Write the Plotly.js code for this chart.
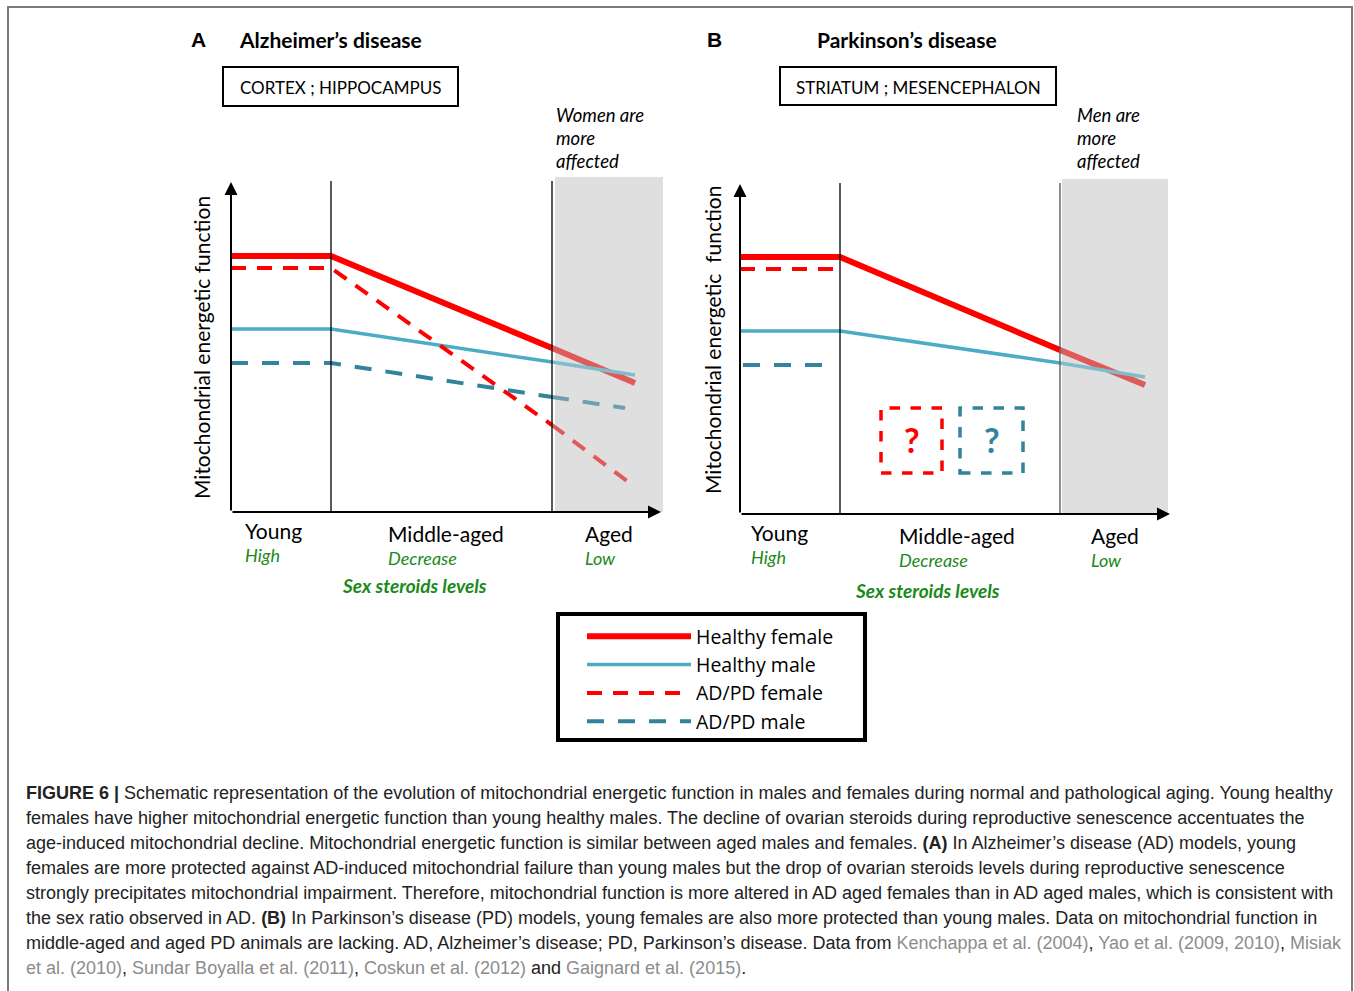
<!DOCTYPE html>
<html>
<head>
<meta charset="utf-8">
<script src="https://cdn.plot.ly/plotly-3.0.1.min.js"></script>
<style>html,body{margin:0;padding:0;background:#fff;}#chart{width:1354px;height:991px;}</style>
</head>
<body>
<div id="chart"></div>
<script>
// ---------- DATA (x: age stage units, y: relative mitochondrial function) ----------
// stage boundaries: young 0-1, middle-aged 1-3.21, aged >3.21
const seriesNames = ["Healthy female", "Healthy male", "AD/PD female", "AD/PD male"];

// Panel A – Alzheimer's disease
const hfA_x = [0, 1.00, 3.21, 4.04];
const hfA_y = [256, 256, 164, 129];
const hmA_x = [0, 1.00, 3.21, 4.04];
const hmA_y = [183, 183, 150, 137];
const adfA_x = [0, 1.00, 3.21, 4.04];
const adfA_y = [244, 244, 87, 25];
const admA_x = [0, 1.00, 3.21, 3.94];
const admA_y = [149, 149, 115, 104];

// Panel B – Parkinson's disease
const hfB_x = [0, 1.00, 3.20, 4.05];
const hfB_y = [257, 257, 164, 129];
const hmB_x = [0, 1.00, 3.20, 4.05];
const hmB_y = [183, 183, 151, 137];
const adfB_x = [0, 0.98];
const adfB_y = [245, 245];
const admB_x = [0.03, 0.95];
const admB_y = [149, 149];

// stage boundaries and shaded "aged" zone
const stageBoundsA = [1.00, 3.21];
const stageBoundsB = [1.00, 3.20];
const agedZoneA = [3.24, 4.32];
const agedZoneB = [3.22, 4.28];

// Category labels
const stageLabels = ["Young", "Middle-aged", "Aged"];
const steroidLabels = ["High", "Decrease", "Low"];

// ---------- STYLES ----------
const RED = "#ff0000", RED_F = "#df5b5b";
const BLUE = "#4bacc6", BLUE_F = "#80bccb";
const TEAL = "#31849b", TEAL_F = "#6e9fae";
const GREEN = "#1b8a1b";
const GRAY_ZONE = "#dfdfdf";
const FONT = "Lato";

const styles = [
  {color: RED, faded: RED_F, width: 6, dash: "solid"},
  {color: BLUE, faded: BLUE_F, width: 3.5, dash: "solid"},
  {color: RED, faded: RED_F, width: 4, dash: "15px,11px"},
  {color: TEAL, faded: TEAL_F, width: 4, dash: "17px,14px"}
];

const W = 1354, H = 991;
const px = v => v / W;
const py = v => 1 - v / H;

const traces = [];
function addSeries(xs, ys, k, xa, ya, legend, split) {
  const st = styles[k];
  const n = xs.length;
  const mainN = split ? 3 : n;
  traces.push({
    x: xs.slice(0, mainN), y: ys.slice(0, mainN), xaxis: xa, yaxis: ya,
    type: "scatter", mode: "lines", name: seriesNames[k], legendgroup: "g" + k,
    showlegend: legend, hoverinfo: "skip",
    line: {color: st.color, width: st.width, dash: st.dash}
  });
  if (split && n > 3) {
    traces.push({
      x: xs.slice(2), y: ys.slice(2), xaxis: xa, yaxis: ya,
      type: "scatter", mode: "lines", name: seriesNames[k], legendgroup: "g" + k,
      showlegend: false, hoverinfo: "skip",
      line: {color: st.faded, width: st.width, dash: st.dash}
    });
  }
}
addSeries(hfA_x, hfA_y, 0, "x", "y", true, true);
addSeries(hmA_x, hmA_y, 1, "x", "y", true, true);
addSeries(adfA_x, adfA_y, 2, "x", "y", true, true);
addSeries(admA_x, admA_y, 3, "x", "y", true, true);
addSeries(hfB_x, hfB_y, 0, "x2", "y2", false, true);
addSeries(hmB_x, hmB_y, 1, "x2", "y2", false, true);
addSeries(adfB_x, adfB_y, 2, "x2", "y2", false, false);
addSeries(admB_x, admB_y, 3, "x2", "y2", false, false);

const shapes = [];
const annotations = [];

function panelDecor(xr, yr, bounds, zone) {
  shapes.push({type: "rect", xref: xr, yref: yr, x0: zone[0], x1: zone[1], y0: 0, y1: 335,
    fillcolor: GRAY_ZONE, line: {width: 0}, layer: "below"});
  bounds.forEach((b, i) => shapes.push({type: "line", xref: xr, yref: yr, x0: b, x1: b, y0: 0, y1: 331,
    line: {color: i === 1 && xr === "x2" ? "#555" : "#000", width: 1.3}, layer: "above"}));
  annotations.push({xref: xr, yref: yr, axref: xr, ayref: yr, x: 0, y: 330, ax: 0, ay: 0,
    text: "", showarrow: true, arrowhead: 2, arrowsize: 1.3, arrowwidth: 2, arrowcolor: "#000"});
  annotations.push({xref: xr, yref: yr, axref: xr, ayref: yr, x: 4.30, y: 0, ax: 0, ay: 0,
    text: "", showarrow: true, arrowhead: 2, arrowsize: 1.3, arrowwidth: 2, arrowcolor: "#000"});
}
panelDecor("x", "y", stageBoundsA, agedZoneA);
panelDecor("x2", "y2", stageBoundsB, agedZoneB);

// "?" boxes in panel B
shapes.push({type: "rect", xref: "x2", yref: "y2", x0: 1.41, x1: 2.02, y0: 41, y1: 106,
  line: {color: RED, width: 3.5, dash: "dash"}});
shapes.push({type: "rect", xref: "x2", yref: "y2", x0: 2.20, x1: 2.83, y0: 41, y1: 106,
  line: {color: TEAL, width: 3.5, dash: "dash"}});
annotations.push({xref: "x2", yref: "y2", x: 1.715, y: 75, text: "<b>?</b>", showarrow: false,
  font: {family: FONT, size: 34, color: RED}});
annotations.push({xref: "x2", yref: "y2", x: 2.515, y: 75, text: "<b>?</b>", showarrow: false,
  font: {family: FONT, size: 34, color: TEAL}});

// border boxes around region names
shapes.push({type: "rect", xref: "paper", yref: "paper", x0: px(223), x1: px(458), y0: py(106), y1: py(67),
  line: {color: "#000", width: 2}});
shapes.push({type: "rect", xref: "paper", yref: "paper", x0: px(780), x1: px(1056), y0: py(105), y1: py(67),
  line: {color: "#000", width: 2}});
// legend frame
shapes.push({type: "rect", xref: "paper", yref: "paper", x0: px(558), x1: px(865), y0: py(740), y1: py(614),
  line: {color: "#000", width: 4}});
// outer figure frame
shapes.push({type: "rect", xref: "paper", yref: "paper", x0: px(8), x1: px(1352), y0: -0.05, y1: py(7),
  line: {color: "#7a7a7a", width: 2}});

function txt(x, y, text, size, opts) {
  annotations.push(Object.assign({xref: "paper", yref: "paper", x: px(x), y: py(y), text: text,
    showarrow: false, xanchor: "left", yanchor: "middle",
    font: {family: FONT, size: size, color: "#000"}}, opts || {}));
}

// panel headings
txt(189, 40, "<b>A</b>", 21, {font: {family: "Liberation Sans", size: 21, color: "#000"}});
txt(237, 39, "<b>Alzheimer’s disease</b>", 21);
txt(705, 40, "<b>B</b>", 21, {font: {family: "Liberation Sans", size: 21, color: "#000"}});
txt(907, 39, "<b>Parkinson’s disease</b>", 21, {xanchor: "center"});
txt(340.5, 87, "CORTEX ; HIPPOCAMPUS", 17, {xanchor: "center"});
txt(918, 87, "STRIATUM ; MESENCEPHALON", 17, {xanchor: "center"});

// affected notes
["Women are", "more", "affected"].forEach((t, i) =>
  txt(554, 115 + i * 23, "<i>" + t + "</i>", 18.5));
["Men are", "more", "affected"].forEach((t, i) =>
  txt(1075, 115 + i * 23, "<i>" + t + "</i>", 18.5));

// y axis titles
txt(201, 348, "Mitochondrial energetic function", 21, {xanchor: "center", textangle: -90});
txt(712, 340, "Mitochondrial energetic&nbsp;&nbsp;function", 21, {xanchor: "center", textangle: -90});

// stage labels
const stageXA = [243, 386, 583], stageXB = [749, 897, 1089];
const stageYA = [530, 533, 533], stageYB = [532, 535, 535];
stageLabels.forEach((s, i) => {
  txt(stageXA[i], stageYA[i], s, 21);
  txt(stageXA[i], stageYA[i] + 25, "<i>" + steroidLabels[i] + "</i>", 18, {font: {family: FONT, size: 18, color: GREEN}});
  txt(stageXB[i], stageYB[i], s, 21);
  txt(stageXB[i], stageYB[i] + 25, "<i>" + steroidLabels[i] + "</i>", 18, {font: {family: FONT, size: 18, color: GREEN}});
});
txt(414, 585, "<b><i>Sex steroids levels</i></b>", 19, {xanchor: "center", font: {family: FONT, size: 19, color: GREEN}});
txt(927, 590, "<b><i>Sex steroids levels</i></b>", 19, {xanchor: "center", font: {family: FONT, size: 19, color: GREEN}});

// caption
const G = s => "<span style='color:#8c8c8c'>" + s + "</span>";
const captionLines = [
  "<b>FIGURE 6 |</b> Schematic representation of the evolution of mitochondrial energetic function in males and females during normal and pathological aging. Young healthy",
  "females have higher mitochondrial energetic function than young healthy males. The decline of ovarian steroids during reproductive senescence accentuates the",
  "age-induced mitochondrial decline. Mitochondrial energetic function is similar between aged males and females. <b>(A)</b> In Alzheimer’s disease (AD) models, young",
  "females are more protected against AD-induced mitochondrial failure than young males but the drop of ovarian steroids levels during reproductive senescence",
  "strongly precipitates mitochondrial impairment. Therefore, mitochondrial function is more altered in AD aged females than in AD aged males, which is consistent with",
  "the sex ratio observed in AD. <b>(B)</b> In Parkinson’s disease (PD) models, young females are also more protected than young males. Data on mitochondrial function in",
  "middle-aged and aged PD animals are lacking. AD, Alzheimer’s disease; PD, Parkinson’s disease. Data from " + G("Kenchappa et al. (2004)") + ", " + G("Yao et al. (2009, 2010)") + ", " + G("Misiak"),
  G("et al. (2010)") + ", " + G("Sundar Boyalla et al. (2011)") + ", " + G("Coskun et al. (2012)") + " and " + G("Gaignard et al. (2015)") + "."
];
captionLines.forEach((l, i) => txt(24, 793 + i * 25, l, 18, {font: {family: "Liberation Sans", size: 18, color: "#222"}}));

const axisOff = {visible: false, fixedrange: true};
const layout = {
  width: W, height: H,
  margin: {l: 0, r: 0, t: 0, b: 0},
  paper_bgcolor: "#fff", plot_bgcolor: "rgba(0,0,0,0)",
  xaxis: Object.assign({range: [-0.1, 4.4], domain: [px(221), px(671)], anchor: "y"}, axisOff),
  yaxis: Object.assign({range: [-10, 340], domain: [py(522), py(172)], anchor: "x"}, axisOff),
  xaxis2: Object.assign({range: [-0.1, 4.4], domain: [px(730), px(1180)], anchor: "y2"}, axisOff),
  yaxis2: Object.assign({range: [-10, 340], domain: [py(524), py(174)], anchor: "x2"}, axisOff),
  showlegend: true,
  legend: {
    x: px(582), y: py(617), xanchor: "left", yanchor: "top",
    borderwidth: 0, bgcolor: "rgba(0,0,0,0)",
    font: {family: "Open Sans", size: 19.5, color: "#000"},
    itemwidth: 104, tracegroupgap: 0, traceorder: "normal"
  },
  shapes: shapes,
  annotations: annotations
};

Plotly.newPlot("chart", traces, layout, {staticPlot: true, displayModeBar: false});
</script>
</body>
</html>
